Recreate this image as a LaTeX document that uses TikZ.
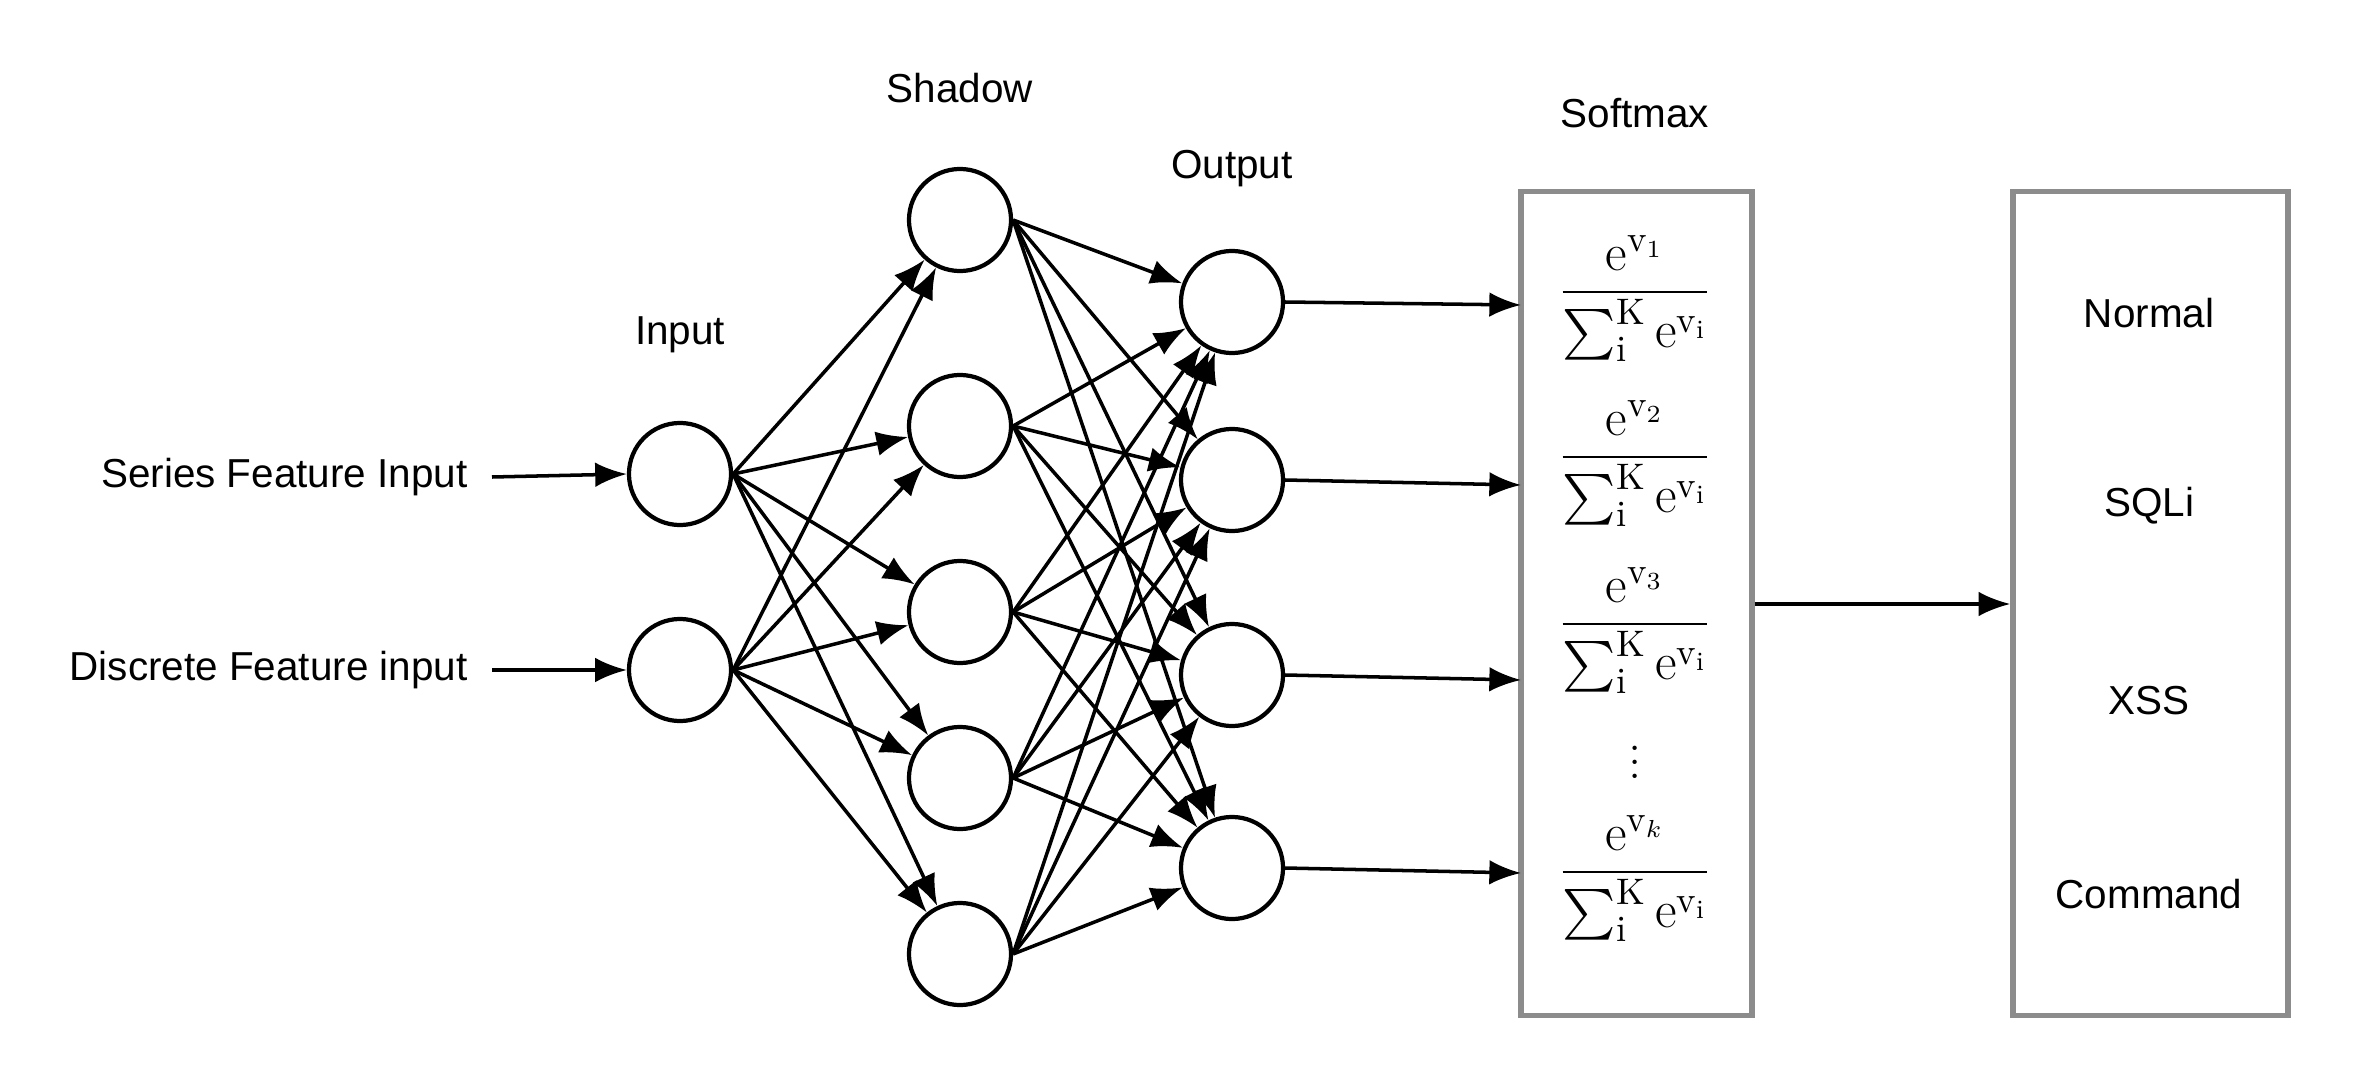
\documentclass[tikz,border=0pt]{standalone}
\usepackage{amsmath}
\usepackage{fontspec}
\setsansfont{Liberation Sans}
\usetikzlibrary{arrows.meta}
\begin{document}
\begin{tikzpicture}[x=0.01cm,y=-0.01cm,
  neuron/.style={circle,draw,line width=1.2pt,minimum size=1.02cm,inner sep=0pt},
  conn/.style={-{Latex[length=9pt,width=7pt]},line width=1pt},
  lbl/.style={font=\sffamily\fontsize{11.5}{14}\selectfont},
  gbox/.style={draw=gray!90,line width=1.5pt},
  frac/.style={font=\fontsize{15}{18}\selectfont,inner sep=0pt}]
\useasboundingbox (0,0) rectangle (2370,1070);
\node[neuron] (i1) at (680,474) {};
\node[neuron] (i2) at (680,670) {};
\foreach \y [count=\k] in {220,426,612,778,954} \node[neuron] (s\k) at (960,\y) {};
\foreach \y [count=\k] in {302,480,675,868} \node[neuron] (o\k) at (1232,\y) {};
\node[lbl] at (680,335) {Input};
\node[lbl] at (960,88) {Shadow};
\node[lbl] at (1232,169) {Output};
\node[lbl] at (1635,113) {Softmax};
\node[lbl,anchor=east] (t1) at (480,477) {Series Feature Input};
\node[lbl,anchor=east] (t2) at (480,670) {Discrete Feature input};
\draw[conn] (t1.east)++(12,0) coordinate (a1) -- (i1.west);
\draw[conn] (t2.east)++(12,0) coordinate (a2) -- (i2.west);
\foreach \a in {1,2} \foreach \b in {1,...,5} \draw[conn] (i\a.east) -- (s\b);
\foreach \a in {1,...,5} \foreach \b in {1,...,4} \draw[conn] (s\a.east) -- (o\b);
\node[gbox,minimum width=2.31cm,minimum height=8.23cm,inner sep=0pt] (sm) at (1636.5,603.5) {};
\node[gbox,minimum width=2.75cm,minimum height=8.23cm,inner sep=0pt] (res) at (2150.5,603.5) {};
\foreach \y [count=\k] in {305,485,680,873} \coordinate (e\k) at (1521,\y);
\foreach \k in {1,...,4} \draw[conn] (o\k.east) -- (e\k);
\draw[conn] (sm.east |- 0,604) -- (res.west |- 0,604);
\newcommand{\smfrac}[1]{$\displaystyle\frac{\mathrm{e}^{\mathrm{v}_{#1}}}{\sum_{\mathrm{i}}^{\mathrm{K}}\mathrm{e}^{\mathrm{v}_{\mathrm{i}}}}$}
\node[frac] (f1) at (1635,299) {\smfrac{1}};
\node[frac] (f2) at (1635,464) {\smfrac{2}};
\node[frac] (f3) at (1635,631) {\smfrac{3}};
\node[frac] (fd) at (1635,752) {$\vdots$};
\node[frac] (fk) at (1635,879) {\smfrac{k}};
\node[lbl] at (2149,313) {Normal};
\node[lbl] at (2149,506) {SQLi};
\node[lbl] at (2149,701) {XSS};
\node[lbl] at (2149,894) {Command};
\end{tikzpicture}
\end{document}
